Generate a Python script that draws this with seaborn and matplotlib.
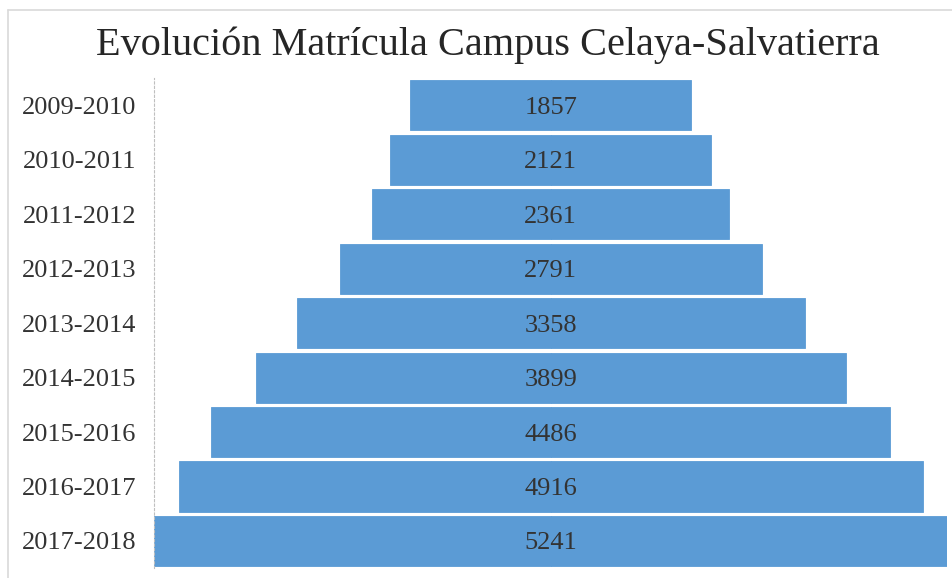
import numpy as np
import pandas as pd
import matplotlib
matplotlib.use('Agg')
import matplotlib.pyplot as plt
import seaborn as sns

# Datos de matrícula por ciclo escolar
ciclos = ['2009-2010', '2010-2011', '2011-2012', '2012-2013', '2013-2014',
          '2014-2015', '2015-2016', '2016-2017', '2017-2018']
matricula = [1857, 2121, 2361, 2791, 3358, 3899, 4486, 4916, 5241]

sns.set_style('white')
plt.rcParams['font.family'] = ['Liberation Serif', 'DejaVu Serif']

df = pd.DataFrame({'ciclo': ciclos, 'matricula': matricula})
df['mitad'] = df['matricula'] / 2
df['mitad_neg'] = -df['matricula'] / 2

color = '#5B9BD5'
fig = plt.figure(figsize=(9.52, 5.78), dpi=100)
ax = fig.add_axes([0.162, 0.017, 0.833, 0.848])

# funnel: two half bars mirrored around zero
sns.barplot(data=df, x='mitad', y='ciclo', color=color, orient='h',
            width=0.92, saturation=1, edgecolor=color, linewidth=0.6, ax=ax)
sns.barplot(data=df, x='mitad_neg', y='ciclo', color=color, orient='h',
            width=0.92, saturation=1, edgecolor=color, linewidth=0.6, ax=ax)

vmax = max(matricula) / 2
ax.set_xlim(-vmax, vmax)
ax.set_ylim(len(ciclos) - 0.5, -0.5)

for i, v in enumerate(matricula):
    ax.text(0, i, str(v), ha='center', va='center_baseline', fontsize=19, color='#333333')

ax.set_xlabel('')
ax.set_ylabel('')
ax.set_xticks([])
ax.tick_params(axis='y', length=0, pad=13, labelsize=19, labelcolor='#333333')
for s in ['top', 'right', 'bottom']:
    ax.spines[s].set_visible(False)
ax.spines['left'].set_color('#BFBFBF')
ax.spines['left'].set_linestyle((0, (2, 2)))
ax.spines['left'].set_linewidth(0.8)

fig.text(0.512, 0.922, 'Evolución Matrícula Campus Celaya-Salvatierra',
         ha='center', va='center', fontsize=29, color='#262626')

# borde exterior del gráfico
fig.add_artist(plt.Line2D([0.008, 0.008], [0, 0.983], color='#D9D9D9', lw=1.2))
fig.add_artist(plt.Line2D([0.008, 1], [0.983, 0.983], color='#D9D9D9', lw=1.2))

fig.savefig('out.png', dpi=100)
